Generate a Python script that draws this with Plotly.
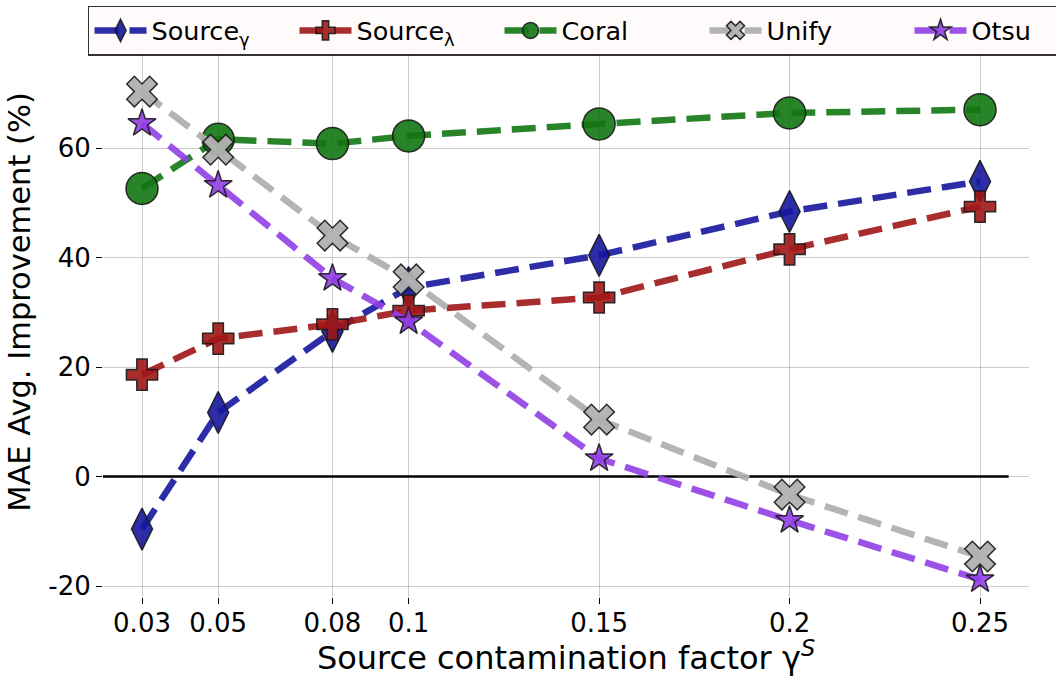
import plotly.graph_objects as go

# Contamination factors (x) and average MAE improvement (%) per method
gamma_s = [0.03, 0.05, 0.08, 0.1, 0.15, 0.2, 0.25]
x_tick_text = ["0.03", "0.05", "0.08", "0.1", "0.15", "0.2", "0.25"]

source_gamma = [-9.6, 11.7, 26.5, 34.5, 40.4, 48.4, 53.9]
source_lambda = [18.6, 25.2, 27.8, 30.3, 32.7, 41.5, 49.3]
coral = [52.6, 61.6, 60.8, 62.2, 64.4, 66.4, 67.0]
unify = [70.3, 59.7, 44.0, 36.0, 10.4, -3.3, -14.6]
otsu = [64.5, 53.2, 36.2, 28.3, 3.3, -8.0, -18.8]

y_tick_vals = [-20, 0, 20, 40, 60]
y_tick_text = ["-20", "0", "20", "40", "60"]

FONT = "DejaVu Sans"
DASH = "24px,11px"

series = [
    ("Source<sub>γ</sub>", source_gamma, "rgba(22,22,158,0.9)", "diamond-tall", 30),
    ("Source<sub>λ</sub>", source_lambda, "rgba(158,22,22,0.9)", "cross", 26),
    ("Coral", coral, "rgba(18,118,18,0.9)", "circle", 32),
    ("Unify", unify, "rgba(176,176,176,0.95)", "x", 27),
    ("Otsu", otsu, "rgba(145,62,228,0.9)", "star", 21),
]

fig = go.Figure()

for name, vals, color, symbol, size in series:
    fig.add_trace(go.Scatter(
        x=gamma_s, y=vals, name=name, mode="lines+markers",
        line=dict(color=color, width=6.5, dash=DASH),
        marker=dict(symbol=symbol, size=size, color=color,
                    line=dict(color="rgba(25,25,25,0.9)", width=1.5)),
    ))

# horizontal reference line at zero improvement
fig.add_shape(type="line", xref="paper", yref="y", x0=0.0, x1=0.978, y0=0, y1=0,
              line=dict(color="black", width=2.5), layer="below")

fig.update_layout(
    width=1056, height=677,
    margin=dict(l=103, r=27, t=7, b=80, autoexpand=False),
    paper_bgcolor="white", plot_bgcolor="white",
    font=dict(family=FONT, size=24, color="black"),
    showlegend=True,
    legend=dict(
        orientation="h", x=-0.0162, xanchor="left", y=1.002, yanchor="top",
        bgcolor="rgba(255,251,251,0.97)", bordercolor="#333333", borderwidth=1.5,
        font=dict(family=FONT, size=25.5), itemwidth=52,
        entrywidth=138, entrywidthmode="pixels",
    ),
    xaxis=dict(
        range=[0.01976, 0.26286], tickvals=gamma_s, ticktext=x_tick_text,
        showgrid=True, gridcolor="rgba(0,0,0,0.2)", gridwidth=1,
        ticks="outside", ticklen=6, tickcolor="black", showline=False,
        zeroline=False, tickfont=dict(size=26), ticklabelstandoff=-3,
        title=dict(text="Source contamination factor γ<sup><i>S</i></sup>",
                   font=dict(size=32), standoff=9),
    ),
    yaxis=dict(
        range=[-22.0, 85.75], tickvals=y_tick_vals, ticktext=y_tick_text,
        showgrid=True, gridcolor="rgba(0,0,0,0.2)", gridwidth=1,
        ticks="outside", ticklen=6, tickcolor="black", showline=False,
        zeroline=False, tickfont=dict(size=26),
        title=dict(text="MAE Avg. Improvement (%)", font=dict(size=30.5), standoff=8),
    ),
)

fig.write_html("out.html")
